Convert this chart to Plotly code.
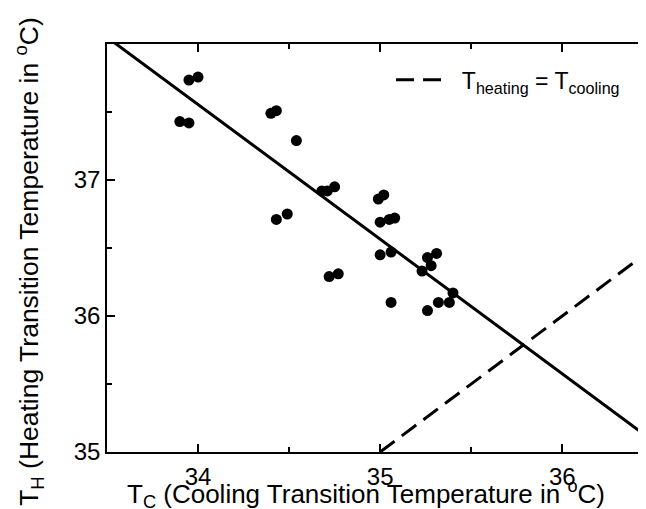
import plotly.graph_objects as go

# Cooling (x) and heating (y) transition temperatures, °C
t_cooling = [33.90, 33.95, 33.95, 34.00, 34.40, 34.43, 34.54, 34.43, 34.49,
             34.68, 34.71, 34.75, 34.72, 34.77, 34.99, 35.02, 35.00, 35.05,
             35.08, 35.00, 35.06, 35.26, 35.31, 35.28, 35.23, 35.06, 35.40,
             35.38, 35.32, 35.26]
t_heating = [37.43, 37.42, 37.735, 37.757, 37.49, 37.51, 37.29, 36.71, 36.75,
             36.92, 36.92, 36.95, 36.29, 36.31, 36.86, 36.89, 36.69, 36.71,
             36.72, 36.45, 36.47, 36.43, 36.46, 36.37, 36.33, 36.10, 36.17,
             36.10, 36.10, 36.04]

# Fitted line
fit_slope = -0.99
fit_intercept = 71.215
fit_x = [33.5, 36.5]

# Equality line T_heating = T_cooling
eq_x = [35.0, 36.5]

x_ticks = [34, 35, 36]
y_ticks = [35, 36, 37]

x_title = "T<sub>C</sub> (Cooling Transition Temperature in <sup>o</sup>C)"
y_title = "T<sub>H</sub> (Heating Transition Temperature in <sup>o</sup>C)"
legend_label = "T<sub>heating</sub> = T<sub>cooling</sub>"

FONT = "Liberation Sans, Arial, Helvetica, sans-serif"
NB = "\u00a0"

fig = go.Figure()
fig.add_trace(go.Scatter(
    x=t_cooling, y=t_heating, mode="markers",
    marker=dict(color="black", size=11), showlegend=False))
fig.add_trace(go.Scatter(
    x=fit_x, y=[fit_intercept + fit_slope * v for v in fit_x], mode="lines",
    line=dict(color="black", width=3), showlegend=False))
fig.add_trace(go.Scatter(
    x=eq_x, y=eq_x, mode="lines",
    line=dict(color="black", width=3, dash="18px,9px"),
    name=NB * 2 + legend_label, showlegend=True))

fig.update_layout(
    width=638, height=501,
    margin=dict(l=99, r=0, t=36, b=57),
    plot_bgcolor="white", paper_bgcolor="white",
    font=dict(family=FONT, color="black", size=24),
    legend=dict(x=0.527, y=0.965, xanchor="left", yanchor="top",
                bgcolor="rgba(0,0,0,0)", font=dict(size=23), itemwidth=48),
    xaxis=dict(
        range=[33.5, 36.46], tickvals=x_ticks, ticks="inside", ticklen=8,
        tickwidth=1.5, tickcolor="black", showline=True, linecolor="black",
        linewidth=1.5, mirror="ticks", showgrid=False, zeroline=False,
        automargin=False,
        minor=dict(dtick=0.5, tick0=33.5, ticks="inside", ticklen=5,
                   tickwidth=1.5, tickcolor="black"),
        tickfont=dict(size=24), ticklabelstandoff=2,
    ),
    yaxis=dict(
        range=[35, 38], tickvals=y_ticks, ticks="inside", ticklen=8,
        tickwidth=1.5, tickcolor="black", showline=True, linecolor="black",
        linewidth=1.5, mirror=False, showgrid=False, zeroline=False,
        automargin=False,
        minor=dict(dtick=0.5, tick0=35, ticks="inside", ticklen=5,
                   tickwidth=1.5, tickcolor="black"),
        tickfont=dict(size=24), ticklabelstandoff=0,
    ),
    annotations=[
        dict(text=x_title, xref="paper", yref="paper", x=0.4814, y=0,
             xanchor="center", yanchor="top", yshift=-22, showarrow=False,
             font=dict(size=26)),
        dict(text=y_title, xref="paper", yref="paper", x=0, y=0.466,
             xanchor="center", yanchor="middle", xshift=-78, textangle=-90,
             showarrow=False, font=dict(size=26.5)),
    ],
)

fig.write_html("out.html")
